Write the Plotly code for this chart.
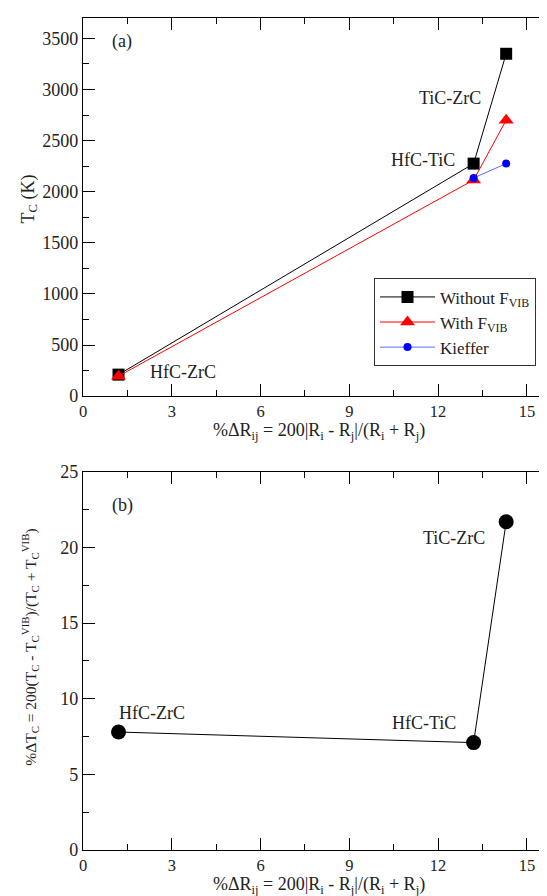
import plotly.graph_objects as go

# ---- data ----
dR = [1.2, 13.2, 14.3]                 # %ΔR_ij for HfC-ZrC, HfC-TiC, TiC-ZrC
tc_without = [210, 2275, 3350]         # T_C without F_VIB (K)
tc_with = [195, 2115, 2700]            # T_C with F_VIB (K)
dR_kieffer = [13.2, 14.3]
tc_kieffer = [2135, 2275]
dTc = [7.8, 7.1, 21.7]                 # %ΔT_C
pairs = ["HfC-ZrC", "HfC-TiC", "TiC-ZrC"]

FONT = "Liberation Serif"
TXT = "#222222"

W, H = 547, 896
L, R, T, B = 75, 0, 8, 54
xr = [0, 15.95]

fig = go.Figure()

fig.add_trace(go.Scatter(x=dR, y=tc_without, mode="lines+markers", name="Without F<sub>VIB</sub>",
                         line=dict(color="black", width=1),
                         marker=dict(symbol="square", size=12, color="black"),
                         xaxis="x", yaxis="y"))
fig.add_trace(go.Scatter(x=dR, y=tc_with, mode="lines+markers", name="With F<sub>VIB</sub>",
                         line=dict(color="red", width=1),
                         marker=dict(symbol="triangle-up", size=13, color="red"),
                         xaxis="x", yaxis="y"))
fig.add_trace(go.Scatter(x=dR_kieffer, y=tc_kieffer, mode="lines+markers", name="Kieffer",
                         line=dict(color="#5a6cff", width=1),
                         marker=dict(symbol="circle", size=8, color="blue"),
                         xaxis="x", yaxis="y"))
fig.add_trace(go.Scatter(x=dR, y=dTc, mode="lines+markers", showlegend=False,
                         line=dict(color="black", width=1),
                         marker=dict(symbol="circle", size=15, color="black"),
                         xaxis="x2", yaxis="y2"))
# helper traces so the right-hand tick axes are drawn
fig.add_trace(go.Scatter(x=[None], y=[None], showlegend=False, hoverinfo="skip",
                         xaxis="x", yaxis="y3"))
fig.add_trace(go.Scatter(x=[None], y=[None], showlegend=False, hoverinfo="skip",
                         xaxis="x2", yaxis="y4"))

plot_h = H - T - B
plot_w = W - L - R
bot_a = 387
top_b = 463
dom_a = [(H - B - bot_a) / plot_h, 1.0]
dom_b = [0.0, (H - B - top_b) / plot_h]

ytickfont = dict(family=FONT, size=18, color=TXT)
xtickfont = dict(family=FONT, size=16.5, color=TXT)

def xax(anchor):
    return dict(range=xr, dtick=3, tick0=0, ticks="inside", ticklen=12, tickwidth=1,
                tickcolor="black", showline=True, linecolor="black", linewidth=1.2,
                mirror="ticks", showgrid=False, zeroline=False, anchor=anchor,
                tickfont=xtickfont, domain=[0, 1],
                minor=dict(dtick=1.5, ticks="inside", ticklen=6, tickwidth=1, tickcolor="black"))

def yax(anchor, dom, rng, dt, mdt):
    return dict(range=rng, dtick=dt, tick0=0, ticks="inside", ticklen=12, tickwidth=1,
                tickcolor="black", showline=True, linecolor="black", linewidth=1.2,
                mirror=False, showgrid=False, zeroline=False, anchor=anchor, domain=dom,
                tickfont=ytickfont,
                minor=dict(dtick=mdt, ticks="inside", ticklen=6, tickwidth=1, tickcolor="black"))

def yright(over, anchor, dom, rng, dt, mdt):
    return dict(range=rng, dtick=dt, tick0=0, ticks="inside", ticklen=12, tickwidth=1,
                tickcolor="black", showline=False, showgrid=False, zeroline=False,
                overlaying=over, side="right", anchor=anchor, domain=dom,
                showticklabels=False,
                minor=dict(dtick=mdt, ticks="inside", ticklen=6, tickwidth=1, tickcolor="black"))

fig.update_layout(
    width=W, height=H,
    margin=dict(l=L, r=R, t=T, b=B),
    paper_bgcolor="white", plot_bgcolor="white",
    font=dict(family=FONT, color=TXT),
    xaxis=xax("y"),
    xaxis2=xax("y2"),
    yaxis=yax("x", dom_a, [0, 3700], 500, 250),
    yaxis2=yax("x2", dom_b, [0, 25], 5, 2.5),
    yaxis3=yright("y", "x", dom_a, [0, 3700], 500, 250),
    yaxis4=yright("y2", "x2", dom_b, [0, 25], 5, 2.5),
    showlegend=True,
    legend=dict(x=(366 - L) / plot_w, y=(H - B - 269) / plot_h, xanchor="left", yanchor="top",
                bgcolor="white", bordercolor="#333333", borderwidth=1,
                font=dict(family=FONT, size=17, color=TXT), itemwidth=55,
                tracegroupgap=0),
)

# axis titles
xtitle = "%ΔR<sub>ij</sub> = 200|R<sub>i</sub> - R<sub>j</sub>|/(R<sub>i</sub> + R<sub>j</sub>)"
for yref in ["y domain", "y2 domain"]:
    fig.add_annotation(x=0.5, y=0, xref="x domain", yref=yref, text=xtitle, showarrow=False,
                       xanchor="center", yanchor="middle", yshift=-35,
                       font=dict(family=FONT, size=18, color=TXT))
fig.add_annotation(x=(21 - L) / plot_w, y=0.52, xref="paper", yref="y domain",
                   text="T<sub>C</sub> (K)", textangle=-90, showarrow=False,
                   xanchor="center", yanchor="middle",
                   font=dict(family=FONT, size=18, color=TXT))
fig.add_annotation(x=(22 - L) / plot_w, y=0.535, xref="paper", yref="y2 domain",
                   text="%ΔT<sub>C</sub> = 200(T<sub>C</sub> - T<sub>C</sub><sup>VIB</sup>)/(T<sub>C</sub> + T<sub>C</sub><sup>VIB</sup>)",
                   textangle=-90, showarrow=False, xanchor="center", yanchor="middle",
                   font=dict(family=FONT, size=15.5, color=TXT))

ann = [
    ("x", "y", 0.92, 3470, "(a)", "left"),
    ("x", "y", 13.5, 2915, pairs[2], "right"),
    ("x", "y", 12.65, 2306, pairs[1], "right"),
    ("x", "y", 2.2, 240, pairs[0], "left"),
    ("x2", "y2", 0.92, 22.78, "(b)", "left"),
    ("x2", "y2", 13.65, 20.64, pairs[2], "right"),
    ("x2", "y2", 1.14, 9.09, pairs[0], "left"),
    ("x2", "y2", 12.67, 8.38, pairs[1], "right"),
]
for xref, yref, x, y, t, xa in ann:
    fig.add_annotation(x=x, y=y, xref=xref, yref=yref, text=t, showarrow=False,
                       xanchor=xa, yanchor="middle",
                       font=dict(family=FONT, size=18, color=TXT))

fig.write_html("out.html")
